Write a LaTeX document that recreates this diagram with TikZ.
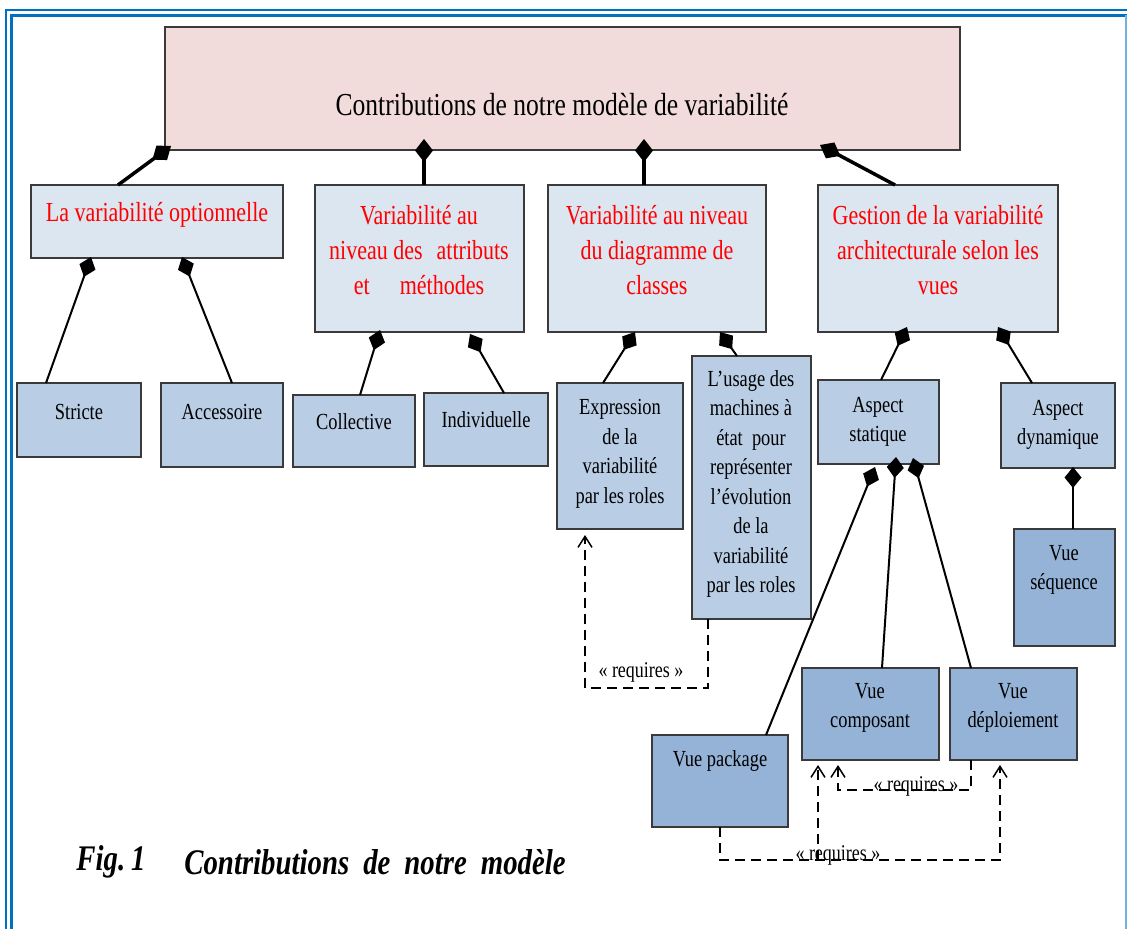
\documentclass[tikz,border=0pt]{standalone}
\usepackage{fontspec}
\setmainfont{Liberation Serif}[FakeStretch=0.8]
\usetikzlibrary{arrows.meta}
\definecolor{rose}{HTML}{F2DCDB}
\definecolor{pale}{HTML}{DCE6F1}
\definecolor{mid}{HTML}{B9CDE5}
\definecolor{deep}{HTML}{95B3D7}
\definecolor{frameblue}{HTML}{0070C0}
\definecolor{edge}{HTML}{3A3A3A}
\tikzset{
  box/.style={draw=edge, line width=1.2pt, inner sep=0pt, outer sep=0pt, anchor=north west},
  rootbox/.style={box, fill=rose},
  palebox/.style={box, fill=pale},
  midbox/.style={box, fill=mid},
  deepbox/.style={box, fill=deep},
  comp/.style={line width=2pt, -{Diamond[length=21pt,width=17pt]}},
  compthick/.style={line width=3.5pt, -{Diamond[length=23pt,width=18pt]}},
  dep/.style={line width=1.5pt, dash pattern=on 10pt off 6pt, -{Straight Barb[length=11pt,width=14pt]}},
  txt/.style={inner sep=0pt, align=center},
  ttitle/.style={txt, font=\fontsize{32}{38}\selectfont},
  tred/.style={txt, text=red, font=\fontsize{27.5}{35}\selectfont},
  tsm/.style={txt, font=\fontsize{23}{29.5}\selectfont},
  treq/.style={txt, font=\fontsize{22.5}{26}\selectfont},
  tcap/.style={txt, font=\fontsize{36}{42}\selectfont\bfseries\itshape}
}
\begin{document}
\begin{tikzpicture}[x=1pt,y=-1pt]
\useasboundingbox (0,0) rectangle (1127,929);

% page frame: double rule on the left and top, thin rule on the right
\draw[frameblue, line width=2.5pt] (6,929) -- (6,10) -- (1127,10);
\draw[frameblue, line width=2.5pt] (11.5,929) -- (11.5,15.5) -- (1127,15.5);
\draw[frameblue!55, line width=1.2pt] (1126,15) -- (1126,929);

% root
\node[rootbox, minimum width=795pt, minimum height=123pt] (top) at (165,27) {};
\node[ttitle] (ttop) at (562,105) {Contributions de notre modèle de variabilité};

% first level
\node[palebox, minimum width=252pt, minimum height=73pt] (A) at (31,185) {};
\node[tred] (tA) at (157,215) {La variabilité optionnelle};
\node[palebox, minimum width=209pt, minimum height=147pt] (B) at (315,185) {};
\node[tred] (tB) at (419,250) {Variabilité au\\niveau des\hspace{14pt}attributs\\et\hspace{30pt}méthodes};
\node[palebox, minimum width=218pt, minimum height=147pt] (C) at (548,185) {};
\node[tred] (tC) at (657,250) {Variabilité au niveau\\du diagramme de\\classes};
\node[palebox, minimum width=240pt, minimum height=147pt] (D) at (818,185) {};
\node[tred] (tD) at (938,250) {Gestion de la variabilité\\architecturale selon les\\vues};

% second level
\node[midbox, minimum width=124pt, minimum height=74pt] (stricte) at (17,383) {};
\node[tsm] (tstricte) at (79,412) {Stricte};
\node[midbox, minimum width=122pt, minimum height=84pt] (acc) at (161,383) {};
\node[tsm] (tacc) at (222,412) {Accessoire};
\node[midbox, minimum width=122pt, minimum height=72pt] (coll) at (293,395) {};
\node[tsm] (tcoll) at (354,422) {Collective};
\node[midbox, minimum width=124pt, minimum height=73pt] (indiv) at (424,393) {};
\node[tsm] (tindiv) at (486,420) {Individuelle};
\node[midbox, minimum width=126pt, minimum height=146pt] (expr) at (557,383) {};
\node[tsm] (texpr) at (620,454) {Expression\\de la\\variabilité\\par les roles};
\node[midbox, minimum width=119pt, minimum height=263pt] (usage) at (692,356) {};
\node[tsm] (tusage) at (751,484) {L’usage des\\machines à\\état\ \ pour\\représenter\\l’évolution\\de la\\variabilité\\par les roles};
\node[midbox, minimum width=121pt, minimum height=84pt] (stat) at (818,380) {};
\node[tsm] (tstat) at (878,422) {Aspect\\statique};
\node[midbox, minimum width=114pt, minimum height=85pt] (dyn) at (1001,383) {};
\node[tsm] (tdyn) at (1058,425) {Aspect\\dynamique};

% views
\node[deepbox, minimum width=101pt, minimum height=117pt] (seq) at (1014,529) {};
\node[tsm] (tseq) at (1064,570) {Vue\\séquence};
\node[deepbox, minimum width=136pt, minimum height=92pt] (pkg) at (652,735) {};
\node[tsm] (tpkg) at (720,761) {Vue package};
\node[deepbox, minimum width=137pt, minimum height=92pt] (cmp) at (802,668) {};
\node[tsm] (tcmp) at (870,708) {Vue\\composant};
\node[deepbox, minimum width=127pt, minimum height=92pt] (depl) at (950,668) {};
\node[tsm] (tdepl) at (1013,708) {Vue\\déploiement};

% compositions to the root
\draw[compthick] ([xshift=87pt]A.north west) -- ([xshift=6pt,yshift=4pt]top.south west);
\draw[compthick] ([xshift=109pt]B.north west) -- ([xshift=259pt,yshift=11pt]top.south west);
\draw[compthick] ([xshift=96pt]C.north west) -- ([xshift=479pt,yshift=11pt]top.south west);
\draw[compthick] ([xshift=77pt]D.north west) -- ([xshift=655pt,yshift=5pt]top.south west);

% compositions to the first level
\draw[comp] ([xshift=29pt]stricte.north west) -- ([xshift=60pt,yshift=1pt]A.south west);
\draw[comp] ([xshift=71pt]acc.north west) -- ([xshift=151pt,yshift=1pt]A.south west);
\draw[comp] ([xshift=67pt]coll.north west) -- ([xshift=65pt,yshift=2pt]B.south west);
\draw[comp] ([xshift=80pt]indiv.north west) -- ([xshift=155pt,yshift=-2pt]B.south west);
\draw[comp] ([xshift=46pt]expr.north west) -- ([xshift=87pt]C.south west);
\draw[comp] ([xshift=45pt]usage.north west) -- ([xshift=172pt]C.south west);
\draw[comp] ([xshift=63pt]stat.north west) -- ([xshift=89pt,yshift=5pt]D.south west);
\draw[comp] ([xshift=31pt]dyn.north west) -- ([xshift=180pt,yshift=5pt]D.south west);

% compositions to the aspects
\draw[comp] ([xshift=59pt]seq.north west) -- ([xshift=72pt,yshift=1pt]dyn.south west);
\draw[comp] ([xshift=114pt]pkg.north west) -- ([xshift=57pt,yshift=-3pt]stat.south west);
\draw[comp] ([xshift=80pt]cmp.north west) -- ([xshift=78pt,yshift=7pt]stat.south west);
\draw[comp] ([xshift=21pt]depl.north west) -- ([xshift=95pt,yshift=6pt]stat.south west);

% requires dependencies
\draw[dep] ([xshift=16pt]usage.south west) -- ++(0,69) -| ([xshift=28pt,yshift=-6pt]expr.south west);
\node[treq] (r1) at (641,672) {« requires »};
\draw[dep] ([xshift=21pt]depl.south west) -- ++(0,30) -| ([xshift=36pt,yshift=-5pt]cmp.south west);
\node[treq] (r2) at (916,786) {« requires »};
\draw[dep] ([xshift=68pt]pkg.south west) -- ++(0,33) -| ([xshift=50pt,yshift=-5pt]depl.south west);
\draw[dep] ([xshift=166pt,yshift=-33pt]pkg.south west) -- ([xshift=16pt,yshift=-5pt]cmp.south west);
\node[treq] (r3) at (838,855) {« requires »};

% caption
\node[tcap] (fig) at (111,862) {Fig.\,1};
\node[tcap] (captxt) at (375,862) {Contributions\hspace{14pt}de\hspace{14pt}notre\hspace{14pt}modèle};
\end{tikzpicture}
\end{document}
